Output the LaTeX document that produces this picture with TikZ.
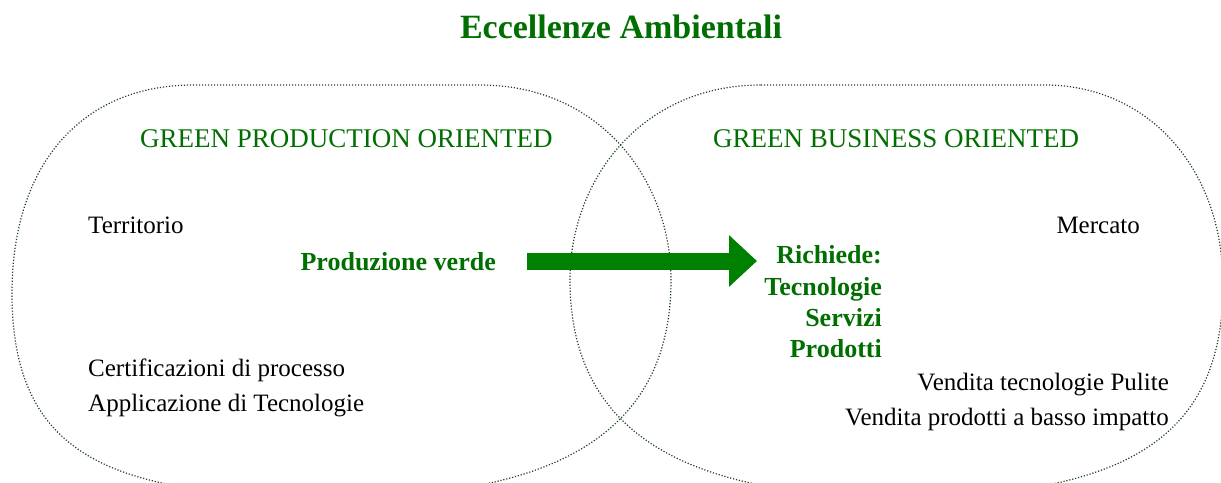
\documentclass[tikz,border=0pt]{standalone}
\usepackage{fontspec}
\setmainfont{Liberation Serif}
\usetikzlibrary{arrows.meta}
\definecolor{dkgreen}{RGB}{0,110,0}
\definecolor{arrgreen}{RGB}{0,128,0}
\definecolor{dotcol}{RGB}{30,65,30}
\tikzset{
  lbl/.style={inner sep=0pt, font=\fontsize{25}{30}\selectfont, text=black},
  hdr/.style={inner sep=0pt, font=\fontsize{27}{32}\selectfont, text=dkgreen},
  bld/.style={inner sep=0pt, font=\fontsize{26}{31}\selectfont\bfseries, text=dkgreen},
  zone/.style={draw=dotcol, line width=1.2pt, dash pattern=on 1.2pt off 1.8pt},
  bigarrow/.style={draw=arrgreen, line width=17pt, -{Triangle[width=50pt,length=28pt]}},
}
\begin{document}
\begin{tikzpicture}[x=1pt,y=-1pt]
\useasboundingbox (0,0) rectangle (1221,482);
\clip (0,0) rectangle (1221,482);
% left zone
\draw[zone] (193,85) -- (480,85)
  .. controls (600,85) and (671,180) .. (671,280)
  .. controls (671,430) and (560,497) .. (340,497)
  .. controls (120,497) and (12,463) .. (12,293)
  .. controls (12,163) and (83,85) .. (193,85) -- cycle;
% right zone
\draw[zone] (761,85) -- (1045,85)
  .. controls (1145,85) and (1223,165) .. (1223,285)
  .. controls (1223,435) and (1130,497) .. (900,497)
  .. controls (681,497) and (570,430) .. (570,280)
  .. controls (570,180) and (641,85) .. (761,85) -- cycle;
% title
\node[inner sep=0pt, anchor=base, font=\fontsize{34}{40}\selectfont\bfseries, text=dkgreen] (title) at (621,38) {Eccellenze Ambientali};
% headers
\node[hdr, anchor=base west] (gpo) at (140,147) {GREEN PRODUCTION ORIENTED};
\node[hdr, anchor=base west] (gbo) at (713,147) {GREEN BUSINESS ORIENTED};
% left texts
\node[lbl, anchor=base west] (terr) at (88,233) {Territorio};
\node[lbl, anchor=base west] (cert) at (88,376) {Certificazioni di processo};
\node[lbl, anchor=base west] (appl) at (88,411) {Applicazione di Tecnologie};
% right texts
\node[lbl, anchor=base east] (merc) at (1140,233) {Mercato};
\node[lbl, anchor=base east] (vtp) at (1169,390) {Vendita tecnologie Pulite};
\node[lbl, anchor=base east] (vpb) at (1169,425) {Vendita prodotti a basso impatto};
% bold labels
\node[bld, anchor=base east] (prod) at (496,270) {Produzione verde};
\node[bld, anchor=base east] (rq1) at (882,263) {Richiede:};
\node[bld, anchor=base east] (rq2) at (882,295) {Tecnologie};
\node[bld, anchor=base east] (rq3) at (882,326) {Servizi};
\node[bld, anchor=base east] (rq4) at (882,357) {Prodotti};
% arrow
\coordinate (arrS) at (527,261);
\coordinate (arrE) at (757,261);
\draw[bigarrow] (arrS) -- (arrE);
\end{tikzpicture}
\end{document}
